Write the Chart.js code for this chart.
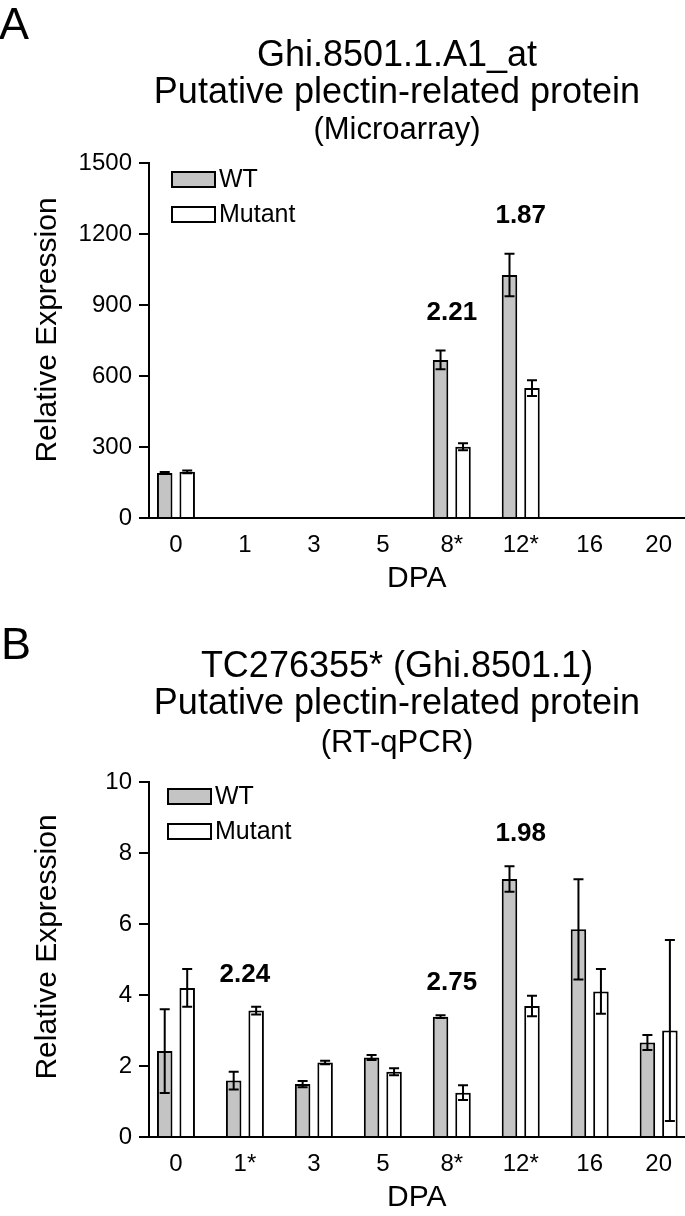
<!DOCTYPE html>
<html>
<head>
<meta charset="utf-8">
<script src="https://cdn.jsdelivr.net/npm/chart.js@4.4.1/dist/chart.umd.min.js"></script>
<style>
  html, body { margin: 0; padding: 0; background: #fff; }
  canvas { display: block; }
</style>
</head>
<body>
<canvas id="chartA" width="685" height="619"></canvas>
<canvas id="chartB" width="685" height="597"></canvas>
<script>
// DPA categories (asterisk = significant)
const dpaLabelsA = ['0', '1', '3', '5', '8*', '12*', '16', '20'];
const dpaLabelsB = ['0', '1*', '3', '5', '8*', '12*', '16', '20'];

// Panel A - microarray
const wtA     = [190, null, null, null, 668, 1027, null, null];
const wtErrA  = [4,   null, null, null, 40,  90,   null, null];
const mutA    = [195, null, null, null, 301, 549,  null, null];
const mutErrA = [6,   null, null, null, 15,  33,   null, null];
const foldA   = [null, null, null, null, '2.21', '1.87', null, null];
const yTicksA = [0, 300, 600, 900, 1200, 1500];

// Panel B - RT-qPCR
const wtB     = [2.42, 1.59, 1.49, 2.24, 3.39, 7.27, 5.85, 2.66];
const wtErrB  = [1.18, 0.25, 0.09, 0.07, 0.04, 0.36, 1.41, 0.21];
const mutB    = [4.20, 3.56, 2.10, 1.84, 1.25, 3.69, 4.10, 3.00];
const mutErrB = [0.53, 0.11, 0.05, 0.10, 0.21, 0.29, 0.63, 2.55];
const foldB   = [null, '2.24', null, null, '2.75', '1.98', null, null];
const yTicksB = [0, 2, 4, 6, 8, 10];

const FONT = '"Liberation Sans", Arial, Helvetica, sans-serif';
Chart.defaults.font.family = FONT;
Chart.defaults.color = '#000';

function points(means, errs) {
    return means.map((v, i) => ({ x: i, y: v, err: errs[i] })).filter(p => p.y !== null);
}

// titles, legend, y title, error bars and fold-change labels
const decor = {
    id: 'decor',
    afterDatasetsDraw(chart, args, o) {
        const ctx = chart.ctx;
        const ys = chart.scales.y, xs = chart.scales.x;
        ctx.save();
        ctx.strokeStyle = '#000';
        ctx.lineWidth = 2;
        chart.data.datasets.forEach((ds, d) => {
            chart.getDatasetMeta(d).data.forEach((bar, j) => {
                const p = ds.data[j];
                const top = ys.getPixelForValue(p.y + p.err);
                const bot = ys.getPixelForValue(Math.max(0, p.y - p.err));
                ctx.beginPath();
                ctx.moveTo(bar.x, top); ctx.lineTo(bar.x, bot);
                ctx.moveTo(bar.x - 5, top); ctx.lineTo(bar.x + 5, top);
                ctx.moveTo(bar.x - 5, bot); ctx.lineTo(bar.x + 5, bot);
                ctx.stroke();
            });
        });
        // fold change above groups
        ctx.fillStyle = '#000';
        ctx.font = 'bold 26px ' + FONT;
        ctx.textAlign = 'center';
        ctx.textBaseline = 'middle';
        o.fold.forEach((f, i) => {
            if (!f) return;
            let top = 0;
            chart.data.datasets.forEach(ds => {
                const p = ds.data.find(q => q.x === i);
                if (p) top = Math.max(top, p.y + p.err);
            });
            ctx.fillText(f, xs.getPixelForValue(i), ys.getPixelForValue(top) - o.foldGap);
        });
        ctx.restore();
    },
    afterDraw(chart, args, o) {
        const ctx = chart.ctx;
        ctx.save();
        ctx.fillStyle = '#000';
        ctx.textBaseline = 'middle';
        // panel letter
        ctx.textAlign = 'left';
        ctx.font = '45px ' + FONT;
        ctx.fillText(o.letter, o.letterX, o.letterY);
        // title lines
        ctx.textAlign = 'center';
        o.titles.forEach((t, k) => {
            ctx.font = (k === 2 ? '31px ' : '36px ') + FONT;
            ctx.fillText(t, 397, o.titleY[k]);
        });
        // y title
        ctx.save();
        ctx.translate(48, o.yTitleY);
        ctx.rotate(-Math.PI / 2);
        ctx.font = '30px ' + FONT;
        ctx.fillText('Relative Expression', 0, 0);
        ctx.restore();
        // legend
        ctx.textAlign = 'left';
        ctx.font = '25px ' + FONT;
        ctx.lineWidth = 2;
        chart.data.datasets.forEach((ds, d) => {
            const y = o.legendY + d * 35;
            ctx.fillStyle = ds.backgroundColor;
            ctx.fillRect(o.legendX, y, 43, 15);
            ctx.strokeStyle = '#000';
            ctx.strokeRect(o.legendX, y, 43, 15);
            ctx.fillStyle = '#000';
            ctx.fillText(ds.label, o.legendX + 47, y + 8);
        });
        ctx.restore();
    }
};

function makeChart(id, labels, wt, wtErr, mut, mutErr, yTicks, xTitlePad, deco) {
    const h = document.getElementById(id).height;
    return new Chart(document.getElementById(id), {
        type: 'bar',
        data: {
            datasets: [
                { label: 'WT', data: points(wt, wtErr), backgroundColor: '#c4c4c4', borderColor: '#000', borderWidth: 2 },
                { label: 'Mutant', data: points(mut, mutErr), backgroundColor: '#ffffff', borderColor: '#000', borderWidth: 2 }
            ]
        },
        options: {
            responsive: false,
            animation: false,
            categoryPercentage: 0.652,
            barPercentage: 0.69,
            layout: { padding: { top: 163, left: 0, right: 0, bottom: 0 } },
            plugins: { legend: { display: false }, tooltip: { enabled: false }, decor: deco },
            scales: {
                x: {
                    type: 'linear',
                    offset: false,
                    min: -0.391,
                    max: 7.377,
                    afterBuildTicks: s => { s.ticks = labels.map((_, i) => ({ value: i })); },
                    afterFit: s => { s.height = h - 518; },
                    ticks: { callback: v => labels[v], font: { size: 24 }, padding: 13, autoSkip: false, maxRotation: 0 },
                    grid: { display: false, drawTicks: false },
                    border: { color: '#000', width: 2 },
                    title: { display: true, text: 'DPA', font: { size: 30 }, padding: { top: 0, bottom: xTitlePad } }
                },
                y: {
                    min: yTicks[0],
                    max: yTicks[yTicks.length - 1],
                    afterBuildTicks: s => { s.ticks = yTicks.map(v => ({ value: v })); },
                    afterFit: s => { s.width = 149; },
                    ticks: { callback: v => String(v), font: { size: 24 }, padding: 7 },
                    grid: { drawOnChartArea: false, drawTicks: true, tickLength: 10, color: '#000', lineWidth: 2 },
                    border: { color: '#000', width: 2 }
                }
            }
        },
        plugins: [decor]
    });
}

makeChart('chartA', dpaLabelsA, wtA, wtErrA, mutA, mutErrA, yTicksA, 22, {
    letter: 'A', letterX: -1, letterY: 27,
    titles: ['Ghi.8501.1.A1_at', 'Putative plectin-related protein', '(Microarray)'],
    titleY: [56, 93, 130],
    yTitleY: 330,
    legendX: 172, legendY: 172,
    fold: foldA, foldGap: 38
});

makeChart('chartB', dpaLabelsB, wtB, wtErrB, mutB, mutErrB, yTicksB, 0, {
    letter: 'B', letterX: 1, letterY: 28,
    titles: ['TC276355* (Ghi.8501.1)', 'Putative plectin-related protein', '(RT-qPCR)'],
    titleY: [48, 85, 124],
    yTitleY: 328,
    legendX: 168, legendY: 170,
    fold: foldB, foldGap: 32
});
</script>
</body>
</html>
